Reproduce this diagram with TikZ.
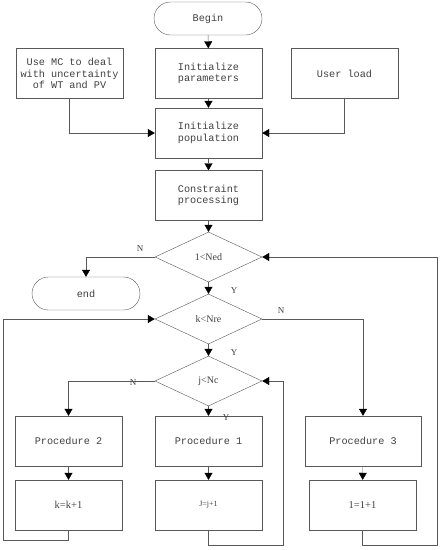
\documentclass[tikz,border=0pt]{standalone}
\usepackage{fontspec}
\setmonofont{Liberation Mono}
\setmainfont{Liberation Serif}
\usetikzlibrary{shapes.geometric,arrows.meta}
\tikzset{
  box/.style={draw=black!65,text=black!75,minimum width=107pt,minimum height=50pt,inner sep=1pt,align=center,font=\ttfamily\fontsize{10.2}{11.5}\selectfont},
  term/.style={box,minimum width=108pt,minimum height=33pt,rounded corners=16.5pt},
  test/.style={draw=black!65,text=black!75,diamond,aspect=2.14,minimum width=107pt,minimum height=50pt,inner sep=0pt,font=\fontsize{10}{11}\selectfont},
  lab/.style={text=black!75,inner sep=0pt,font=\fontsize{9}{10}\selectfont},
  flow/.style={draw=black!65,-{Triangle[length=7pt,width=8pt,fill=black,color=black]}}
}
\begin{document}
\begin{tikzpicture}[x=1pt,y=-1pt]
  \useasboundingbox (0,0) rectangle (440,550);
  % top part
  \node[term] (begin) at (208,18.5) {Begin};
  \node[box] (par) at (208.5,73.5) {Initialize\\parameters};
  \node[box] (mc) at (69.5,73.5) {Use MC to deal\\with uncertainty\\of WT and PV};
  \node[box] (load) at (344.5,73.5) {User load};
  \node[box] (pop) at (208.5,133) {Initialize\\population};
  \node[box] (con) at (208.5,195.5) {Constraint\\processing};
  % tests
  \node[test] (d1) at (208.5,257) {1<Ned};
  \node[term] (end) at (86,293.5) {end};
  \node[test] (d2) at (208.5,319) {k<Nre};
  \node[test] (d3) at (208.5,381) {j<Nc};
  % procedures
  \node[box] (p2) at (68.5,441) {Procedure 2};
  \node[box] (p1) at (208.5,441) {Procedure 1};
  \node[box,minimum width=116pt] (p3) at (363,441) {Procedure 3};
  \node[box,font=\fontsize{10.5}{11}\selectfont] (k) at (68.5,505) {k=k+1};
  \node[box,font=\fontsize{8}{9}\selectfont] (j) at (208.5,505) {J=j+1};
  \node[box,font=\fontsize{10.5}{11}\selectfont] (l) at (362.5,505) {1=1+1};
  % labels
  \node[lab] (n1) at (140,249) {N};
  \node[lab] (y1) at (234,291) {Y};
  \node[lab] (n2) at (281,311) {N};
  \node[lab] (y2) at (234,353) {Y};
  \node[lab] (n3) at (133,383) {N};
  \node[lab] (y3) at (226,418) {Y};
  % loop corners
  \coordinate (ck) at (3,540); \coordinate (cj) at (283,545); \coordinate (cl) at (437,545);
  % connectors
  \draw[flow] (begin) -- (par); \draw[flow] (par) -- (pop); \draw[flow] (pop) -- (con); \draw[flow] (con) -- (d1);
  \draw[flow] (mc.south) |- (pop.west); \draw[flow] (load.south) |- (pop.east);
  \draw[flow] (d1.west) -| (end.north); \draw[flow] (d1) -- (d2); \draw[flow] (d2) -- (d3);
  \draw[flow] (d2.east) -| (p3.north); \draw[flow] (d3.west) -| (p2.north); \draw[flow] (d3) -- (p1);
  \draw[flow] (p2) -- (k); \draw[flow] (p1) -- (j); \draw[flow] (p3) -- (l);
  \draw[flow] (k.south) |- (ck) |- (d2.west);
  \draw[flow] (j.south) |- (cj) |- (d3.east);
  \draw[flow] (l.south) |- (cl) |- (d1.east);
\end{tikzpicture}
\end{document}
